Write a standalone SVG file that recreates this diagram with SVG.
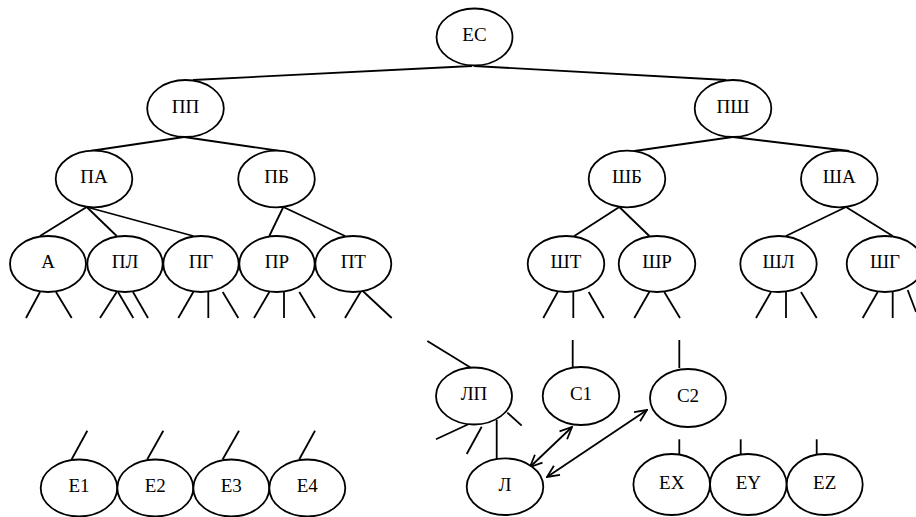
<svg xmlns="http://www.w3.org/2000/svg" width="916" height="517" viewBox="0 0 916 517">
<style>
.n ellipse{fill:#fff;stroke:#000;stroke-width:1.8}
.n text{font-family:"Liberation Serif","DejaVu Serif",serif;font-size:19px;fill:#000;text-anchor:middle}
.c line{stroke:#000;stroke-width:1.8;fill:none}
</style>
<defs>
<marker id="ah" viewBox="0 0 14 14" refX="13" refY="7" markerWidth="14" markerHeight="14" markerUnits="userSpaceOnUse" orient="auto-start-reverse">
<path d="M1,1.5 L13,7 L1,12.5" fill="none" stroke="#000" stroke-width="1.8"/>
</marker>
</defs>
<rect width="916" height="517" fill="#fff"/>
<g class="c" id="connectors">
<line x1="472" y1="66" x2="193" y2="80"/>
<line x1="474" y1="66" x2="726" y2="80"/>
<line x1="184" y1="137" x2="90" y2="151"/>
<line x1="184" y1="137" x2="280" y2="151"/>
<line x1="732.7" y1="137" x2="634.3" y2="151"/>
<line x1="732.7" y1="137" x2="849.3" y2="151"/>
<line x1="86.7" y1="207" x2="40" y2="236"/>
<line x1="86.7" y1="207" x2="116.7" y2="236"/>
<line x1="86.7" y1="207" x2="193.3" y2="236"/>
<line x1="283.3" y1="207" x2="269.3" y2="236"/>
<line x1="283.3" y1="207" x2="345" y2="236"/>
<line x1="619.3" y1="207" x2="574.3" y2="236"/>
<line x1="619.3" y1="207" x2="649.3" y2="236"/>
<line x1="846" y1="207" x2="786" y2="236"/>
<line x1="846" y1="207" x2="892.7" y2="236"/>
<line x1="40" y1="292" x2="26" y2="318"/>
<line x1="56" y1="292" x2="71.7" y2="318"/>
<line x1="116.7" y1="292" x2="100" y2="318"/>
<line x1="118" y1="292" x2="133.3" y2="318"/>
<line x1="133" y1="292" x2="148" y2="318"/>
<line x1="193.3" y1="292" x2="178.3" y2="318"/>
<line x1="208.3" y1="292" x2="208.3" y2="318"/>
<line x1="222.7" y1="292" x2="238.3" y2="318"/>
<line x1="269.3" y1="292" x2="254" y2="318"/>
<line x1="284" y1="292" x2="284" y2="318"/>
<line x1="299.3" y1="292" x2="315" y2="318"/>
<line x1="361.7" y1="290" x2="345" y2="318"/>
<line x1="361.7" y1="290" x2="391.7" y2="318"/>
<line x1="557.7" y1="292" x2="543.3" y2="318"/>
<line x1="573.3" y1="292" x2="573.3" y2="318"/>
<line x1="588.7" y1="292" x2="603.7" y2="318"/>
<line x1="649.3" y1="292" x2="634.3" y2="318"/>
<line x1="664.3" y1="292" x2="680" y2="318"/>
<line x1="771" y1="292" x2="756" y2="318"/>
<line x1="786" y1="292" x2="786" y2="318"/>
<line x1="801" y1="292" x2="816.7" y2="318"/>
<line x1="877.7" y1="292" x2="862.7" y2="318"/>
<line x1="892.7" y1="292" x2="892.7" y2="318"/>
<line x1="907.7" y1="290" x2="916" y2="312"/>
<line x1="71.7" y1="459.3" x2="87.3" y2="430.7"/>
<line x1="147.3" y1="459.3" x2="163.3" y2="430.7"/>
<line x1="222.7" y1="459.3" x2="239" y2="430.7"/>
<line x1="299.3" y1="459.3" x2="315" y2="430.7"/>
<line x1="427.3" y1="341" x2="471.7" y2="368.3"/>
<line x1="572.7" y1="340" x2="572.7" y2="368"/>
<line x1="679.3" y1="340" x2="679.3" y2="368"/>
<line x1="468.3" y1="424.3" x2="436" y2="439.3"/>
<line x1="481.7" y1="426.7" x2="466.7" y2="454"/>
<line x1="496.7" y1="420" x2="496.7" y2="461.7"/>
<line x1="507.3" y1="412.7" x2="521.7" y2="425.7"/>
<line x1="679.3" y1="439.3" x2="679.3" y2="454"/>
<line x1="740.7" y1="439.3" x2="740.7" y2="454"/>
<line x1="816.7" y1="439.3" x2="816.7" y2="454"/>
<line x1="530" y1="467" x2="572" y2="427" marker-start="url(#ah)" marker-end="url(#ah)"/>
<line x1="547" y1="477" x2="647" y2="410" marker-start="url(#ah)" marker-end="url(#ah)"/>
</g>
<g class="n" id="n-ES"><ellipse cx="474.5" cy="37" rx="38" ry="28.5"/><text x="474.5" y="41">ЕС</text></g>
<g class="n" id="n-PP"><ellipse cx="185.5" cy="108.5" rx="38.3" ry="28.5"/><text x="185.5" y="112.5">ПП</text></g>
<g class="n" id="n-PSh"><ellipse cx="733" cy="108.5" rx="38.3" ry="28.5"/><text x="733" y="112.5">ПШ</text></g>
<g class="n" id="n-PA"><ellipse cx="94" cy="179" rx="38.3" ry="28.3"/><text x="94" y="183">ПА</text></g>
<g class="n" id="n-PB"><ellipse cx="276.5" cy="179" rx="38.3" ry="28.3"/><text x="276.5" y="183">ПБ</text></g>
<g class="n" id="n-ShB"><ellipse cx="627" cy="179" rx="38.3" ry="28.3"/><text x="627" y="183">ШБ</text></g>
<g class="n" id="n-ShA"><ellipse cx="839.3" cy="179" rx="38.3" ry="28.3"/><text x="839.3" y="183">ША</text></g>
<g class="n" id="n-A"><ellipse cx="48" cy="264" rx="38" ry="28"/><text x="48" y="268">А</text></g>
<g class="n" id="n-PL"><ellipse cx="125" cy="264" rx="37.7" ry="28"/><text x="125" y="268">ПЛ</text></g>
<g class="n" id="n-PG"><ellipse cx="201" cy="264" rx="37.7" ry="28"/><text x="201" y="268">ПГ</text></g>
<g class="n" id="n-PR"><ellipse cx="277" cy="264" rx="37.7" ry="28"/><text x="277" y="268">ПР</text></g>
<g class="n" id="n-PT"><ellipse cx="353.3" cy="264" rx="38" ry="28"/><text x="353.3" y="268">ПТ</text></g>
<g class="n" id="n-ShT"><ellipse cx="566" cy="264" rx="38.3" ry="28"/><text x="566" y="268">ШТ</text></g>
<g class="n" id="n-ShR"><ellipse cx="657" cy="264" rx="38.3" ry="28"/><text x="657" y="268">ШР</text></g>
<g class="n" id="n-ShL"><ellipse cx="778.5" cy="264" rx="38.2" ry="28"/><text x="778.5" y="268">ШЛ</text></g>
<g class="n" id="n-ShG"><ellipse cx="885" cy="264" rx="38.3" ry="28"/><text x="885" y="268">ШГ</text></g>
<g class="n" id="n-LP"><ellipse cx="474" cy="396" rx="38" ry="28.5"/><text x="474" y="400">ЛП</text></g>
<g class="n" id="n-C1"><ellipse cx="581" cy="396" rx="38.3" ry="29"/><text x="581" y="400">С1</text></g>
<g class="n" id="n-C2"><ellipse cx="688" cy="398" rx="38" ry="29"/><text x="688" y="402">С2</text></g>
<g class="n" id="n-L"><ellipse cx="505" cy="486.7" rx="38.3" ry="28.3"/><text x="505" y="491">Л</text></g>
<g class="n" id="n-E1"><ellipse cx="79" cy="488" rx="38.3" ry="28.5"/><text x="79" y="492">E1</text></g>
<g class="n" id="n-E2"><ellipse cx="155.3" cy="488" rx="38" ry="28.5"/><text x="155.3" y="492">E2</text></g>
<g class="n" id="n-E3"><ellipse cx="231.3" cy="488" rx="38" ry="28.5"/><text x="231.3" y="492">E3</text></g>
<g class="n" id="n-E4"><ellipse cx="307.3" cy="488" rx="38" ry="28.5"/><text x="307.3" y="492">E4</text></g>
<g class="n" id="n-EX"><ellipse cx="671.7" cy="484.5" rx="38.3" ry="30.5"/><text x="671.7" y="488.5">EX</text></g>
<g class="n" id="n-EY"><ellipse cx="748.3" cy="484.5" rx="38.3" ry="30.5"/><text x="748.3" y="488.5">EY</text></g>
<g class="n" id="n-EZ"><ellipse cx="824.7" cy="484.5" rx="38" ry="30.5"/><text x="824.7" y="488.5">EZ</text></g>
</svg>
